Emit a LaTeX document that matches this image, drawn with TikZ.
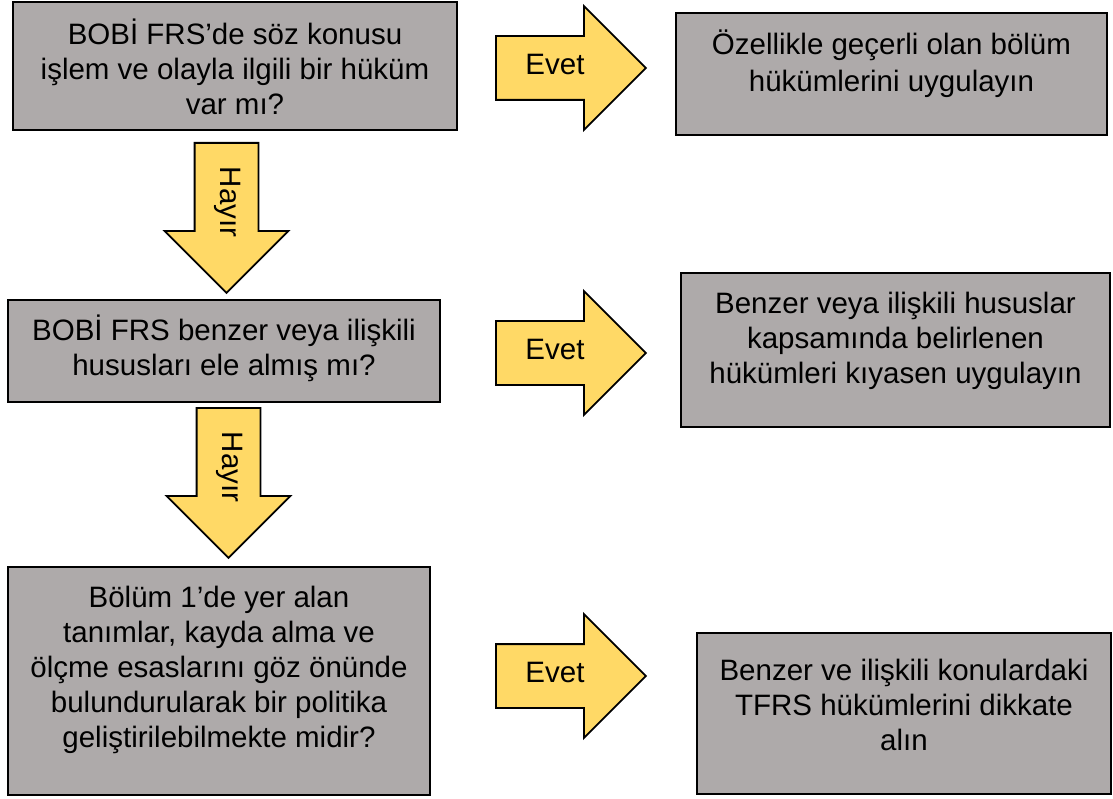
\documentclass[tikz,border=0pt]{standalone}
\usepackage{fontspec}
\setmainfont{Liberation Sans}
\usepackage{tikz}
\usetikzlibrary{shapes.arrows}
\definecolor{boxgray}{HTML}{AEAAAA}
\definecolor{arrowyellow}{HTML}{FFD966}
\tikzstyle{question} = [rectangle, draw, fill=boxgray, line width=2.8pt, text centered, align=center, inner sep=0pt, text depth=0pt, font=\fontsize{29.5}{35}\selectfont]
\tikzstyle{answer} = [question]
\tikzstyle{blockarrow} = [single arrow, draw, fill=arrowyellow, line width=1.8pt, single arrow head extend=30pt, single arrow tip angle=90, minimum height=150pt, inner ysep=16.5pt, text height=21pt, text depth=8pt, font=\fontsize{29.5}{35}\selectfont]

\begin{document}
\begin{tikzpicture}[x=1pt, y=-1pt]
    \useasboundingbox (0,0) rectangle (1113,799);
    \node (kural) [question, minimum width=444pt, minimum height=128pt, text height=98pt] at (235,66) {BOBİ FRS’de söz konusu\\işlem ve olayla ilgili bir hüküm\\var mı?};
    \node (bolum) [answer, minimum width=431pt, minimum height=122pt, text height=36pt, font=\fontsize{29.5}{37}\selectfont] at (891.5,74) {Özellikle geçerli olan bölüm\\hükümlerini uygulayın};
    \node (benzer) [question, minimum width=432pt, minimum height=102pt, text height=48pt] at (224,351) {BOBİ FRS benzer veya ilişkili\\hususları ele almış mı?};
    \node (kiyas) [answer, minimum width=429pt, minimum height=154pt, text height=66pt] at (895.5,350) {Benzer veya ilişkili hususlar\\kapsamında belirlenen\\hükümleri kıyasen uygulayın};
    \node (politika) [question, minimum width=422pt, minimum height=228pt, text height=132pt] at (219,681) {Bölüm 1’de yer alan\\tanımlar, kayda alma ve\\ölçme esaslarını göz önünde\\bulundurularak bir politika\\geliştirilebilmekte midir?};
    \node (tfrs) [answer, minimum width=414pt, minimum height=161pt, text height=73pt] at (904,713.5) {Benzer ve ilişkili konulardaki\\TFRS hükümlerini dikkate\\alın};
    % block arrows
    \node (evet1) [blockarrow, anchor=tail] at (495,68) {Evet};
    \node (evet2) [blockarrow, anchor=tail] at (495,353) {Evet};
    \node (evet3) [blockarrow, anchor=tail] at (495,676) {Evet};
    \node (hayir1) [blockarrow, anchor=tail, rotate=-90] at (226.5,142) {Hayır};
    \node (hayir2) [blockarrow, anchor=tail, rotate=-90] at (228.5,407) {Hayır};
\end{tikzpicture}
\end{document}
